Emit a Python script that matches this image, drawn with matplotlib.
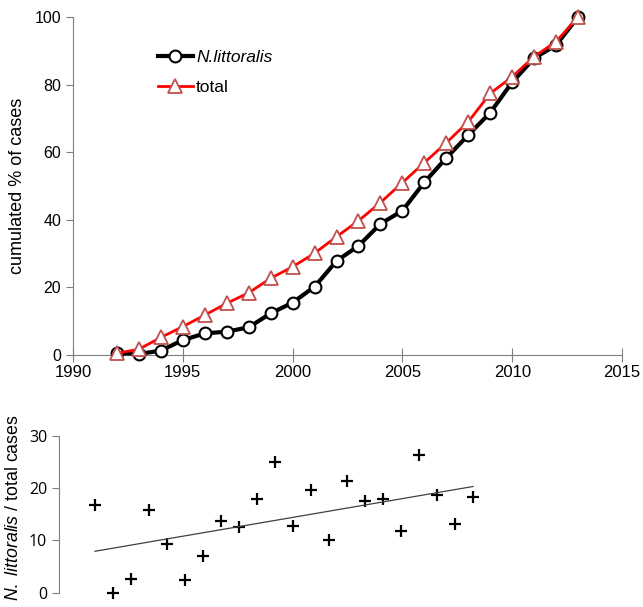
import numpy as np
import matplotlib.pyplot as plt

# cumulative curves (top)
years = list(range(1992, 2014))
nl_cum = [0.6, 0.3, 1.3, 4.4, 6.4, 6.9, 8.2, 12.3, 15.5, 20.2, 27.8,
          32.3, 38.8, 42.7, 51.1, 58.3, 65.1, 71.7, 80.7, 87.8, 91.7, 100.0]
total_cum = [0.5, 1.7, 5.2, 8.4, 11.8, 15.3, 18.4, 22.7, 26.1, 30.1, 35.0,
             39.7, 45.1, 51.0, 56.9, 62.8, 69.0, 77.4, 82.3, 88.3, 92.7, 100.0]

# ratio N. littoralis / total cases per year (bottom)
ratio = [16.7, 0.0, 2.6, 15.8, 9.4, 2.4, 7.0, 13.8, 12.6, 18.0, 25.1,
         12.8, 19.6, 10.0, 21.3, 17.5, 17.9, 11.8, 26.4, 18.7, 13.1, 18.4]

plt.rcParams['font.family'] = ['Liberation Sans', 'DejaVu Sans']
plt.rcParams['mathtext.fontset'] = 'custom'
plt.rcParams['mathtext.rm'] = 'Liberation Sans'
plt.rcParams['mathtext.it'] = 'Liberation Sans:italic'
spine_col = '#7f7f7f'

fig = plt.figure(figsize=(6.43, 6.07), dpi=100)

# ---- top panel ----
ax1 = fig.add_axes([73/643, 1-355/607, 549/643, 338/607])
ax1.plot(years, nl_cum, color='black', lw=3, marker='o', ms=8.5,
         mfc='white', mec='black', mew=1.5, label='N.littoralis', zorder=3, clip_on=False)
ax1.plot(years, total_cum, color='#ff0000', lw=2, marker='^', ms=10,
         mfc='white', mec='#c0504d', mew=1.3, label='total', zorder=4, clip_on=False)
ax1.set_xlim(1990, 2015)
ax1.set_ylim(0, 100)
ax1.set_xticks([1990, 1995, 2000, 2005, 2010, 2015])
ax1.set_yticks([0, 20, 40, 60, 80, 100])
for s in ['top', 'right']:
    ax1.spines[s].set_visible(False)
for s in ['left', 'bottom']:
    ax1.spines[s].set_color(spine_col)
ax1.tick_params(axis='x', direction='inout', length=10, color=spine_col, labelsize=12, pad=2)
ax1.tick_params(axis='y', direction='out', length=5, color=spine_col, labelsize=11.5)
ax1.set_ylabel('cumulated % of cases', fontsize=13, labelpad=6)
leg = ax1.legend(loc='upper left', bbox_to_anchor=(0.126, 0.95), frameon=False,
                 handlelength=2.0, handletextpad=0.2, labelspacing=0.85,
                 prop={'size': 12.5})
leg.get_texts()[0].set_fontstyle('italic')

# ---- bottom panel ----
ax2 = fig.add_axes([59/643, 1-592.7/607, 441/643, 156.7/607])
ax2.plot(years, ratio, linestyle='none', marker='+', ms=9, mew=1.6,
         color='black', clip_on=False)
coef = np.polyfit(years, ratio, 1)
fit_x = np.array([years[0], years[-1]])
ax2.plot(fit_x, np.polyval(coef, fit_x), color='#404040', lw=0.9)
ax2.set_xlim(1990, 1990 + 441/18)
ax2.set_ylim(0, 30)
ax2.set_yticks([0, 10, 20, 30])
ax2.set_xticks([])
for s in ['top', 'right', 'bottom']:
    ax2.spines[s].set_visible(False)
ax2.spines['left'].set_color(spine_col)
ax2.tick_params(axis='y', direction='out', length=5, color=spine_col, labelsize=11.5)
for lab in ax2.get_yticklabels():
    lab.set_family('Open Sans')
ax2.set_ylabel(r'$\mathit{N.\ littoralis}$ / total cases', fontsize=12.8)
ax2.yaxis.set_label_coords(-0.085, 0.54)

fig.savefig('out.png', dpi=100)
